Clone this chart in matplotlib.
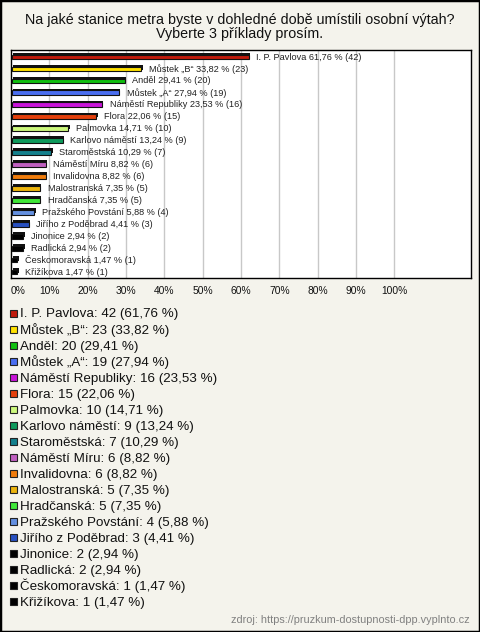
import matplotlib.pyplot as plt
from matplotlib.patches import Rectangle

plt.rcParams['font.family'] = ['Liberation Sans', 'DejaVu Sans']

# stations, counts and share of respondents (%)
stations = ["I. P. Pavlova", "Můstek „B“", "Anděl", "Můstek „A“", "Náměstí Republiky",
            "Flora", "Palmovka", "Karlovo náměstí", "Staroměstská", "Náměstí Míru",
            "Invalidovna", "Malostranská", "Hradčanská", "Pražského Povstání",
            "Jiřího z Poděbrad", "Jinonice", "Radlická", "Českomoravská", "Křižíkova"]
counts = [42, 23, 20, 19, 16, 15, 10, 9, 7, 6, 6, 5, 5, 4, 3, 2, 2, 1, 1]
percents = [61.76, 33.82, 29.41, 27.94, 23.53, 22.06, 14.71, 13.24, 10.29, 8.82,
            8.82, 7.35, 7.35, 5.88, 4.41, 2.94, 2.94, 1.47, 1.47]
colors = ["#c01a0c", "#ffe100", "#10c010", "#4a6ef0", "#c814d8", "#e4400c",
          "#ccf87c", "#0e9a5c", "#14808c", "#c060c0", "#f07c0c", "#ecb40c",
          "#40e838", "#6490e0", "#2850c0", "#000000", "#000000", "#000000", "#000000"]
ticks = [0, 10, 20, 30, 40, 50, 60, 70, 80, 90, 100]

def fmt(v):
    return ("%.2f" % v).replace(".", ",")

W, H = 480, 632
fig = plt.figure(figsize=(4.8, 6.32), dpi=100)
fig.patch.set_facecolor("#f4f3ec")
fig.patches.append(Rectangle((0, 0), 1, 1, transform=fig.transFigure, fill=False,
                             edgecolor="black", linewidth=2.5))

fig.text(0.5, (632 - 20) / H, "Na jaké stanice metra byste v dohledné době umístili osobní výtah?",
         ha="center", va="center", fontsize=10.3, color="#111111")
fig.text(0.5, (632 - 34) / H, "Vyberte 3 příklady prosím.",
         ha="center", va="center", fontsize=10.3, color="#111111")

ax = fig.add_axes([11 / W, (632 - 278) / H, 460 / W, 228 / H])
ax.set_facecolor("white")
n = len(stations)
ypos = list(range(n))
ax.set_xlim(0, 120)
ax.set_ylim(18.5, -0.59)
for t in ticks[1:]:
    ax.axvline(t, color="#c8c8c8", linewidth=1, zorder=0)

# shadow then face, to mimic the 3D bars
ax.barh([y - 0.15 for y in ypos], percents, left=0.6, height=0.4,
        color="#111111", zorder=2)
ax.barh(ypos, percents, left=0.2, height=0.4, color=colors,
        edgecolor="#111111", linewidth=0.8, zorder=3)
for y, s, p, c in zip(ypos, stations, percents, counts):
    ax.text(p + 2.2, y, "%s %s %% (%d)" % (s, fmt(p), c), va="center", ha="left",
            fontsize=6.6, color="#222222", zorder=4)

ax.set_xticks(ticks)
ax.set_xticklabels(["%d%%" % t for t in ticks], fontsize=7.4, color="#111111")
ax.get_xticklabels()[0].set_ha("left")
ax.tick_params(axis="x", length=0, pad=6)
ax.set_yticks([])
for sp in ax.spines.values():
    sp.set_color("black")
    sp.set_linewidth(1)

# legend
for i, (s, p, c, col) in enumerate(zip(stations, percents, counts, colors)):
    yc = 313 + i * 16.05
    fig.patches.append(Rectangle((9.5 / W, (632 - yc - 3.5) / H), 7 / W, 7 / H,
                                 transform=fig.transFigure, facecolor=col,
                                 edgecolor="#222222", linewidth=0.8))
    fig.text(20 / W, (632 - yc - 4.5) / H, "%s: %d (%s %%)" % (s, c, fmt(p)),
             ha="left", va="baseline", fontsize=9.6, color="#111111")

fig.text(470 / W, (632 - 620) / H, "zdroj: https://pruzkum-dostupnosti-dpp.vyplnto.cz",
         ha="right", va="center", fontsize=7.8, color="#808080")

fig.savefig("out.png", dpi=100, facecolor=fig.get_facecolor())
